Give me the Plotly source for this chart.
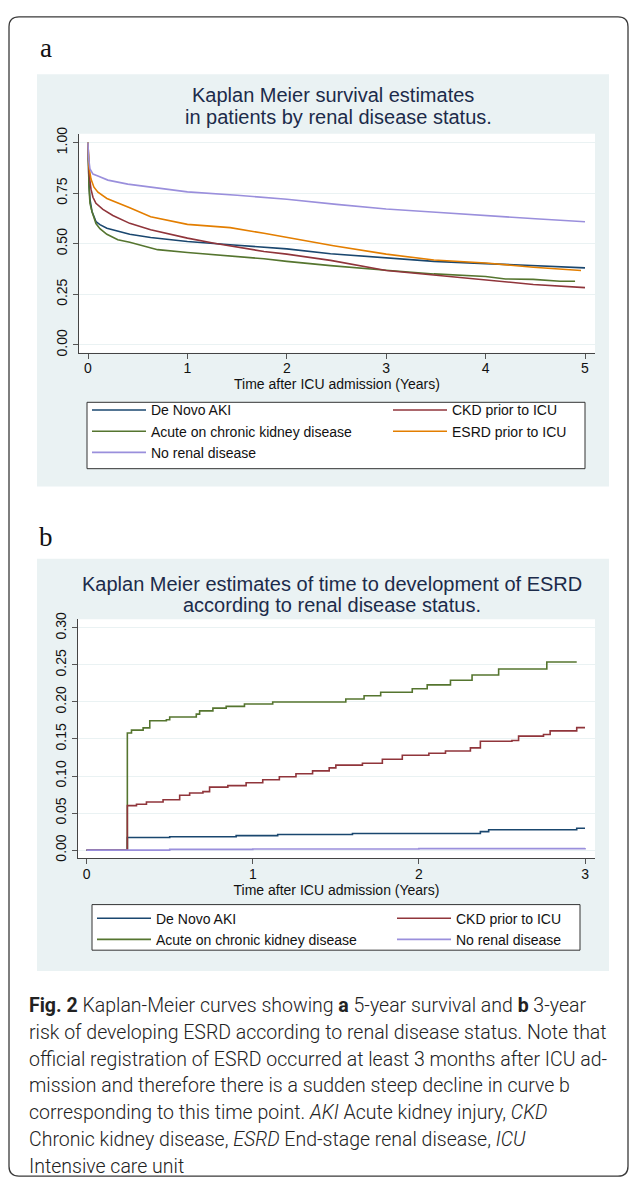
import plotly.graph_objects as go

W, H = 636, 1187

# ---------------- Panel a: survival estimates ----------------
a_names = ["De Novo AKI", "CKD prior to ICU", "Acute on chronic kidney disease",
           "ESRD prior to ICU", "No renal disease"]
a_colors = ["#1a476f", "#90353b", "#55752f", "#e37e00", "#9a8fdc"]
a_legend_col = ["legend", "legend2", "legend", "legend2", "legend"]

t_aki = [0, 0.005, 0.01, 0.02, 0.04, 0.08, 0.12, 0.19, 0.42, 0.63, 1.0, 1.43, 2.0, 2.44, 3.0, 3.48, 4.0, 4.48, 5.0]
s_aki = [1.0, 0.88, 0.80, 0.72, 0.66, 0.61, 0.595, 0.577, 0.547, 0.531, 0.511, 0.495, 0.475, 0.451, 0.43, 0.413, 0.402, 0.392, 0.381]

t_ckd = [0, 0.005, 0.01, 0.03, 0.05, 0.08, 0.15, 0.25, 0.42, 0.63, 1.0, 1.27, 1.77, 2.0, 2.44, 3.0, 3.48, 4.0, 4.48, 5.0]
s_ckd = [1.0, 0.92, 0.85, 0.77, 0.73, 0.70, 0.67, 0.64, 0.601, 0.569, 0.528, 0.503, 0.462, 0.449, 0.418, 0.368, 0.345, 0.319, 0.299, 0.283]

t_acute = [0, 0.005, 0.01, 0.02, 0.04, 0.08, 0.12, 0.19, 0.3, 0.42, 0.7, 1.0, 1.43, 1.77, 2.0, 2.44, 3.0, 3.48, 4.0, 4.2, 4.48, 4.75, 4.9]
s_acute = [1.0, 0.86, 0.78, 0.70, 0.66, 0.60, 0.575, 0.547, 0.52, 0.508, 0.471, 0.457, 0.441, 0.426, 0.413, 0.392, 0.369, 0.351, 0.338, 0.326, 0.324, 0.315, 0.315]

t_esrd = [0, 0.005, 0.01, 0.03, 0.06, 0.1, 0.19, 0.42, 0.63, 1.0, 1.43, 1.77, 2.0, 2.47, 3.0, 3.48, 4.0, 4.48, 4.96]
s_esrd = [1.0, 0.93, 0.88, 0.82, 0.78, 0.755, 0.724, 0.678, 0.634, 0.596, 0.58, 0.552, 0.531, 0.49, 0.449, 0.42, 0.405, 0.384, 0.368]

t_none = [0, 0.005, 0.02, 0.05, 0.1, 0.2, 0.4, 0.7, 1.0, 1.5, 2.0, 2.5, 3.0, 3.5, 4.0, 4.5, 5.0]
s_none = [1.0, 0.93, 0.87, 0.845, 0.835, 0.815, 0.795, 0.775, 0.757, 0.74, 0.72, 0.695, 0.672, 0.656, 0.639, 0.624, 0.609]

a_series = [(t_aki, s_aki), (t_ckd, s_ckd), (t_acute, s_acute), (t_esrd, s_esrd), (t_none, s_none)]
a_draw_order = [0, 2, 1, 3, 4]
a_ticks_y = [0.0, 0.25, 0.5, 0.75, 1.0]
a_ticks_x = [0, 1, 2, 3, 4, 5]

# ---------------- Panel b: time to ESRD ----------------
b_names = ["De Novo AKI", "CKD prior to ICU", "Acute on chronic kidney disease", "No renal disease"]
b_colors = ["#1a476f", "#90353b", "#55752f", "#9a8fdc"]
b_legend_col = ["legend3", "legend4", "legend3", "legend4"]

tb_aki = [0, 0.245, 0.5, 0.9, 1.15, 1.6, 2.37, 2.42, 2.95, 3.0]
vb_aki = [0, 0.017, 0.018, 0.0195, 0.021, 0.0225, 0.025, 0.0275, 0.0295, 0.0295]

tb_ckd = [0, 0.245, 0.30, 0.36, 0.46, 0.56, 0.62, 0.7, 0.74, 0.85, 0.96, 1.06, 1.16, 1.26, 1.36, 1.46,
          1.5, 1.66, 1.78, 1.9, 2.06, 2.16, 2.31, 2.37, 2.56, 2.6, 2.75, 2.79, 2.95, 3.0]
vb_ckd = [0, 0.060, 0.062, 0.065, 0.068, 0.074, 0.077, 0.079, 0.085, 0.087, 0.091, 0.095, 0.099, 0.103, 0.107, 0.111,
          0.1147, 0.1173, 0.1227, 0.128, 0.1307, 0.1338, 0.138, 0.147, 0.148, 0.1538, 0.156, 0.161, 0.1653, 0.1653]

tb_acute = [0, 0.245, 0.27, 0.34, 0.38, 0.48, 0.5, 0.66, 0.68, 0.76, 0.84, 0.95, 1.12, 1.56, 1.67, 1.77,
            1.96, 2.05, 2.19, 2.32, 2.48, 2.77, 2.95]
vb_acute = [0, 0.158, 0.162, 0.165, 0.1747, 0.176, 0.1796, 0.1836, 0.188, 0.1916, 0.194, 0.1973, 0.2, 0.204,
            0.2084, 0.213, 0.2178, 0.2231, 0.2293, 0.2364, 0.2444, 0.254, 0.254]

tb_none = [0, 0.5, 1.0, 2.0, 3.0]
vb_none = [0, 0.001, 0.0015, 0.002, 0.003]

b_series = [(tb_aki, vb_aki), (tb_ckd, vb_ckd), (tb_acute, vb_acute), (tb_none, vb_none)]
b_draw_order = [0, 2, 1, 3]
b_ticks_y = [0.0, 0.05, 0.10, 0.15, 0.20, 0.25, 0.30]
b_ticks_x = [0, 1, 2, 3]

a_title = ["Kaplan Meier survival estimates", "in patients by renal disease status."]
b_title = ["Kaplan Meier estimates of time to development of ESRD", "according to renal disease status."]
x_title = "Time after ICU admission (Years)"

caption_lines = [
    "<b>Fig. 2</b> Kaplan-Meier curves showing <b>a</b> 5-year survival and <b>b</b> 3-year",
    "risk of developing ESRD according to renal disease status. Note that",
    "official registration of ESRD occurred at least 3 months after ICU ad-",
    "mission and therefore there is a sudden steep decline in curve b",
    "corresponding to this time point. <i>AKI</i> Acute kidney injury, <i>CKD</i>",
    "Chronic kidney disease, <i>ESRD</i> End-stage renal disease, <i>ICU</i>",
    "Intensive care unit",
]


def X(px):
    return px / W


def Y(py):
    return 1 - py / H


SANS = "Liberation Sans, Arial, sans-serif"
PANEL_BG = "#eaf2f3"
fig = go.Figure()

for i in a_draw_order:
    t, s = a_series[i]
    fig.add_trace(go.Scatter(x=t, y=s, mode="lines", name=a_names[i],
                             line=dict(color=a_colors[i], width=1.6),
                             xaxis="x", yaxis="y", legend=a_legend_col[i], legendrank=i + 1))

for i in b_draw_order:
    t, v = b_series[i]
    fig.add_trace(go.Scatter(x=t, y=v, mode="lines", name=b_names[i],
                             line=dict(color=b_colors[i], width=1.6, shape="hv"),
                             xaxis="x2", yaxis="y2", legend=b_legend_col[i], legendrank=i + 1))

axis_common = dict(showline=True, linecolor="#444444", linewidth=1, ticks="outside",
                   ticklen=5, tickcolor="#555555", tickwidth=1, zeroline=False,
                   tickfont=dict(family=SANS, size=14, color="#111111"))


def legend_at(px, py):
    return dict(orientation="v", x=X(px), xanchor="left", y=Y(py), yanchor="top",
                itemwidth=54, bgcolor="rgba(0,0,0,0)", borderwidth=0,
                font=dict(family=SANS, size=14, color="#111111"), traceorder="normal")


fig.update_layout(
    width=W, height=H, margin=dict(l=0, r=0, t=0, b=0),
    paper_bgcolor="white", plot_bgcolor="rgba(0,0,0,0)",
    xaxis=dict(domain=[X(79), X(595)], range=[-0.0905, 5.1006], tickvals=a_ticks_x,
               showgrid=False, anchor="y", ticklabelstandoff=-3,
               title=dict(text=x_title, font=dict(family=SANS, size=14, color="#111111"), standoff=0),
               **axis_common),
    yaxis=dict(domain=[Y(349), Y(128)], range=[-0.039, 1.044], tickvals=a_ticks_y,
               tickformat=".2f", tickangle=-90, showgrid=True, gridcolor=PANEL_BG, gridwidth=1,
               anchor="x", **axis_common),
    xaxis2=dict(domain=[X(78), X(595)], range=[-0.052, 3.06], tickvals=b_ticks_x,
                showgrid=False, anchor="y2", ticklabelstandoff=-2,
                title=dict(text=x_title, font=dict(family=SANS, size=14, color="#111111"), standoff=0),
                **axis_common),
    yaxis2=dict(domain=[Y(859), Y(618)], range=[-0.0107, 0.3116], tickvals=b_ticks_y,
                tickformat=".2f", tickangle=-90, showgrid=True, gridcolor=PANEL_BG, gridwidth=1,
                anchor="x2", **axis_common),
    legend=legend_at(87, 391),
    legend2=legend_at(388, 391),
    legend3=legend_at(92, 904),
    legend4=legend_at(392, 904),
    showlegend=True,
)

shapes = []
# outer rounded border
x0, x1, y0, y1, r = 9, 628, 10, 1180, 10
rx, ry = r / W, r / H
path = (f"M {X(x0)+rx},{Y(y0)} L {X(x1)-rx},{Y(y0)} Q {X(x1)},{Y(y0)} {X(x1)},{Y(y0)-ry} "
        f"L {X(x1)},{Y(y1)+ry} Q {X(x1)},{Y(y1)} {X(x1)-rx},{Y(y1)} "
        f"L {X(x0)+rx},{Y(y1)} Q {X(x0)},{Y(y1)} {X(x0)},{Y(y1)+ry} "
        f"L {X(x0)},{Y(y0)-ry} Q {X(x0)},{Y(y0)} {X(x0)+rx},{Y(y0)} Z")
shapes.append(dict(type="path", xref="paper", yref="paper", path=path,
                   line=dict(color="#3a3a3a", width=1.3), fillcolor="rgba(0,0,0,0)", layer="below"))
# panel backgrounds
for (py0, py1) in [(68, 484), (557, 973)]:
    shapes.append(dict(type="rect", xref="paper", yref="paper", x0=X(37), x1=X(609), y0=Y(py1), y1=Y(py0),
                       fillcolor=PANEL_BG, line=dict(width=0), layer="below"))
# white plot regions
shapes.append(dict(type="rect", xref="paper", yref="paper", x0=X(79), x1=X(595), y0=Y(349), y1=Y(128),
                   fillcolor="white", line=dict(width=0), layer="below"))
shapes.append(dict(type="rect", xref="paper", yref="paper", x0=X(78), x1=X(595), y0=Y(859), y1=Y(618),
                   fillcolor="white", line=dict(width=0), layer="below"))
# legend boxes
shapes.append(dict(type="rect", xref="paper", yref="paper", x0=X(87), x1=X(585), y0=Y(466), y1=Y(399),
                   fillcolor="white", line=dict(color="#333333", width=1), layer="below"))
shapes.append(dict(type="rect", xref="paper", yref="paper", x0=X(92), x1=X(580), y0=Y(952), y1=Y(906),
                   fillcolor="white", line=dict(color="#333333", width=1), layer="below"))
fig.update_layout(shapes=shapes)

ann = []
TITLE_COLOR = "#1c2b4a"
for k, (line, cx) in enumerate(zip(a_title, [333, 338])):
    ann.append(dict(text=line, x=X(cx), y=Y(89 + 22 * k), xref="paper", yref="paper",
                    xanchor="center", yanchor="middle", showarrow=False,
                    font=dict(family=SANS, size=20, color=TITLE_COLOR)))
for k, line in enumerate(b_title):
    ann.append(dict(text=line, x=X(332), y=Y(582 + 22 * k), xref="paper", yref="paper",
                    xanchor="center", yanchor="middle", showarrow=False,
                    font=dict(family=SANS, size=20, color=TITLE_COLOR)))
for lab, px, py in [("a", 38, 41), ("b", 37, 535)]:
    ann.append(dict(text=lab, x=X(px), y=Y(py), xref="paper", yref="paper",
                    xanchor="left", yanchor="middle", showarrow=False,
                    font=dict(family="Liberation Serif, Times New Roman, serif", size=27, color="#111111")))
for k, line in enumerate(caption_lines):
    ann.append(dict(text=line, x=X(27), y=Y(1008 + 27 * k), xref="paper", yref="paper",
                    xanchor="left", yanchor="middle", showarrow=False, align="left",
                    font=dict(family="Roboto, Liberation Sans, sans-serif", size=19.5, color="#222222",
                              weight=300)))
fig.update_layout(annotations=ann)

fig.write_html("out.html", config={"displayModeBar": False},
               post_script="document.body.style.margin='0px';")
